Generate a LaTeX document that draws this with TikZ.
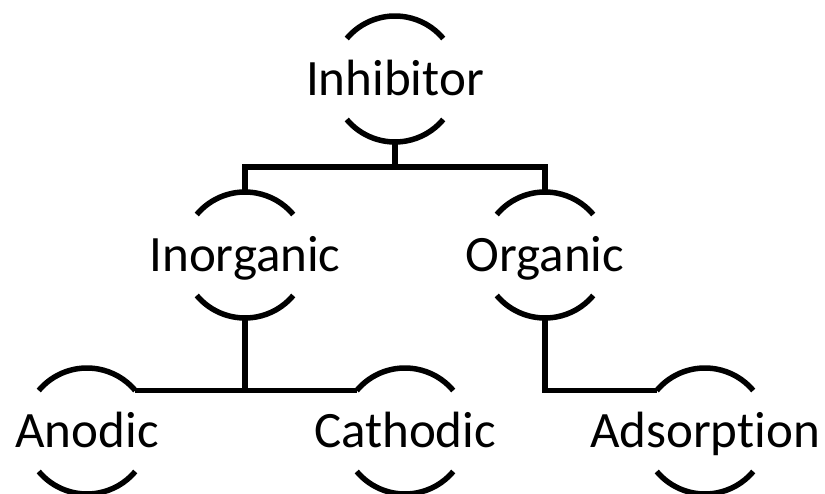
\documentclass[tikz,border=0pt]{standalone}
\usepackage{fontspec}
\setmainfont{Carlito}[Ligatures=NoCommon]
\usetikzlibrary{calc}

\begin{document}
\begin{tikzpicture}[x=1pt,y=1pt,
		lbl/.style={font=\fontsize{51}{60}\selectfont, inner sep=0pt, text height=33pt, text depth=0pt},
		link/.style={line width=5.5pt}]
		\def\r{63}
		\useasboundingbox (0,0) rectangle (825,493);
		\foreach \n/\x/\y/\t in {inh/395/414/Inhibitor, ino/245/238/Inorganic, org/545/238/Organic, ano/87/62/Anodic, cat/405/62/Cathodic, ads/705/62/Adsorption} {
			\node[lbl] (\n) at (\x,\y) {\t};
			\path (\n.center) +(90:\r) coordinate (\n-top) +(270:\r) coordinate (\n-bot) +(40:\r) coordinate (\n-ne) +(140:\r) coordinate (\n-nw);
			\draw[link] (\n-nw) arc (140:40:\r) (\n.center) +(220:\r) arc (220:320:\r);
		}
		\path (inh-bot) ++(0,-25) coordinate (bus);
		\draw[link] (inh-bot) -- (bus);
		\draw[link] (ino-top) |- (bus) -| (org-top);
		\draw[link] (ino-bot) -- (ino-bot |- ano-ne);
		\draw[link] (ano-ne) -- (cat-nw);
		\draw[link] (org-bot) |- (ads-nw);
	\end{tikzpicture}
\end{document}
